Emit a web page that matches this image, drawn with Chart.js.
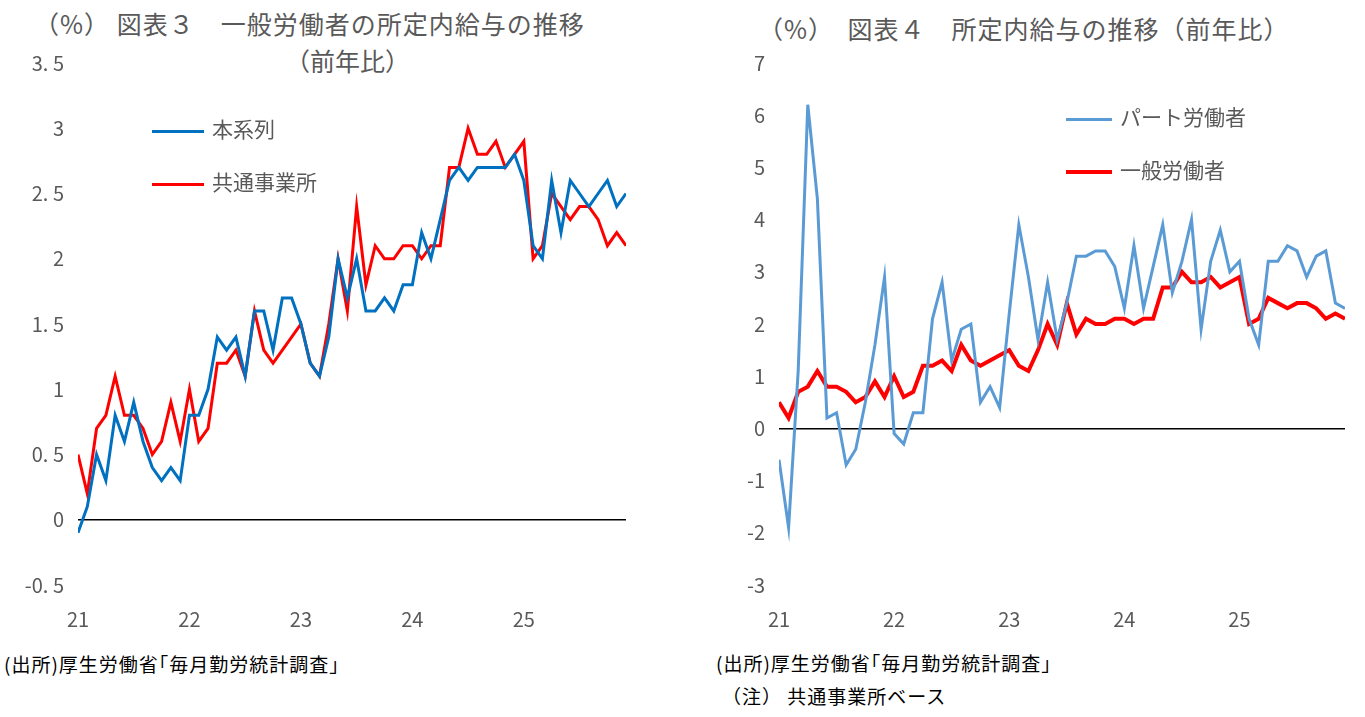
<!DOCTYPE html>
<html><head><meta charset="utf-8">
<script src="https://cdn.jsdelivr.net/npm/chart.js@4/dist/chart.umd.min.js"></script>
<style>
body{margin:0;background:#fff;font-family:"Noto Sans CJK JP",sans-serif;color:#595959;}
.t{position:absolute;white-space:nowrap;}
canvas{position:absolute;}
.lg{position:absolute;font-size:21px;color:#595959;white-space:nowrap;}
.lg i{display:inline-block;vertical-align:middle;margin-right:8px;}
.src{position:absolute;font-size:19px;color:#000;white-space:nowrap;}
</style></head><body>
<div class="t" style="left:34px;top:5px;font-size:25px;letter-spacing:1px;">（%） 図表３　一般労働者の所定内給与の推移</div>
<div class="t" style="left:285px;top:42px;font-size:25px;">（前年比）</div>
<div class="t" style="left:758px;top:10px;font-size:25px;letter-spacing:1px;">（%）　図表４　所定内給与の推移（前年比）</div>
<div style="position:absolute;left:0;top:0;width:640px;height:640px"><canvas id="c1"></canvas></div>
<div style="position:absolute;left:690px;top:0;width:670px;height:640px"><canvas id="c2"></canvas></div>
<div class="lg" style="left:152px;top:113px"><i style="width:52px;height:3px;background:#0070C0"></i>本系列</div>
<div class="lg" style="left:152px;top:166px"><i style="width:52px;height:3px;background:#FF0000"></i>共通事業所</div>
<div class="lg" style="left:1066px;top:101px"><i style="width:46px;height:3px;background:#5B9BD5"></i>パート労働者</div>
<div class="lg" style="left:1066px;top:154px"><i style="width:46px;height:4px;background:#FF0000"></i>一般労働者</div>
<div class="src" style="left:4px;top:650px;letter-spacing:1px">(出所)厚生労働省｢毎月勤労統計調査｣</div>
<div class="src" style="left:716px;top:649px;letter-spacing:1px">(出所)厚生労働省｢毎月勤労統計調査｣</div>
<div class="src" style="left:722px;top:682px;letter-spacing:1px">（注） 共通事業所ベース</div>
<script>
var yearLabels = ['21', '22', '23', '24', '25'];
// 本系列 (Jan 2021 - Dec 2025)
var honKeiretsu = [
	-0.1, 0.1, 0.5, 0.3, 0.8, 0.6, 0.9, 0.6, 0.4, 0.3, 0.4, 0.3,
	0.8, 0.8, 1.0, 1.4, 1.3, 1.4, 1.1, 1.6, 1.6, 1.3, 1.7, 1.7,
	1.5, 1.2, 1.1, 1.4, 2.0, 1.7, 2.0, 1.6, 1.6, 1.7, 1.6, 1.8,
	1.8, 2.2, 2.0, 2.3, 2.6, 2.7, 2.6, 2.7, 2.7, 2.7, 2.7, 2.8,
	2.6, 2.1, 2.0, 2.6, 2.2, 2.6, 2.5, 2.4, 2.5, 2.6, 2.4, 2.5
];
// 共通事業所 = 一般労働者
var kyotsu = [
	0.5, 0.2, 0.7, 0.8, 1.1, 0.8, 0.8, 0.7, 0.5, 0.6, 0.9, 0.6,
	1.0, 0.6, 0.7, 1.2, 1.2, 1.3, 1.1, 1.6, 1.3, 1.2, 1.3, 1.4,
	1.5, 1.2, 1.1, 1.5, 2.0, 1.6, 2.4, 1.8, 2.1, 2.0, 2.0, 2.1,
	2.1, 2.0, 2.1, 2.1, 2.7, 2.7, 3.0, 2.8, 2.8, 2.9, 2.7, 2.8,
	2.9, 2.0, 2.1, 2.5, 2.4, 2.3, 2.4, 2.4, 2.3, 2.1, 2.2, 2.1
];
var partTime = [
	-0.6, -1.9, 1.1, 6.2, 4.4, 0.2, 0.3, -0.7, -0.4, 0.5, 1.6, 2.9,
	-0.1, -0.3, 0.3, 0.3, 2.1, 2.8, 1.3, 1.9, 2.0, 0.5, 0.8, 0.4,
	2.2, 3.9, 2.9, 1.7, 2.8, 1.7, 2.4, 3.3, 3.3, 3.4, 3.4, 3.1,
	2.3, 3.5, 2.3, 3.1, 3.9, 2.6, 3.2, 4.0, 1.9, 3.2, 3.8, 3.0,
	3.2, 2.1, 1.6, 3.2, 3.2, 3.5, 3.4, 2.9, 3.3, 3.4, 2.4, 2.3
];

function pts(arr) { return arr.map(function(v, i) { return {x: i, y: v}; }); }
function fmt(v) {
	var s = Math.abs(v).toFixed(1).replace('.0', '').replace('.', '. ');
	return (v < 0 ? '-' : '') + s;
}
var tickFont = {family: '"Noto Sans CJK JP"', size: 20};

function makeChart(id, sets, ymin, ymax, step, yw, padR) {
	var ctx = document.getElementById(id).getContext('2d');
	return new Chart(ctx, {
		type: 'line',
		data: {datasets: sets},
		options: {
			responsive: true,
			maintainAspectRatio: false,
			animation: false,
			layout: {padding: {top: 63, right: padR}},
			plugins: {legend: {display: false}, tooltip: {enabled: false}},
			elements: {point: {radius: 0}, line: {tension: 0}},
			scales: {
				x: {
					type: 'linear', min: 0, max: 59,
					afterFit: function(s) { s.height = 55; },
					afterBuildTicks: function(s) { s.ticks = [0, 12, 24, 36, 48].map(function(v) { return {value: v}; }); },
					ticks: {color: '#595959', font: tickFont, autoSkip: false, maxRotation: 0, padding: 14,
						callback: function(v) { return yearLabels[v / 12]; }},
					grid: {display: false},
					border: {display: false}
				},
				y: {
					min: ymin, max: ymax,
					afterFit: function(s) { s.width = yw; },
					ticks: {stepSize: step, color: '#595959', font: tickFont, padding: 14, callback: fmt},
					grid: {drawTicks: false, color: function(c) { return c.tick.value === 0 ? '#000' : 'rgba(0,0,0,0)'; }, lineWidth: 1.5},
					border: {display: false}
				}
			}
		}
	});
}

makeChart('c1', [
	{data: pts(honKeiretsu), borderColor: '#0070C0', borderWidth: 3},
	{data: pts(kyotsu), borderColor: '#FF0000', borderWidth: 3}
], -0.5, 3.5, 0.5, 78, 14);

makeChart('c2', [
	{data: pts(partTime), borderColor: '#5B9BD5', borderWidth: 3},
	{data: pts(kyotsu), borderColor: '#FF0000', borderWidth: 4}
], -3, 7, 1, 89, 15);
</script>
</body></html>
